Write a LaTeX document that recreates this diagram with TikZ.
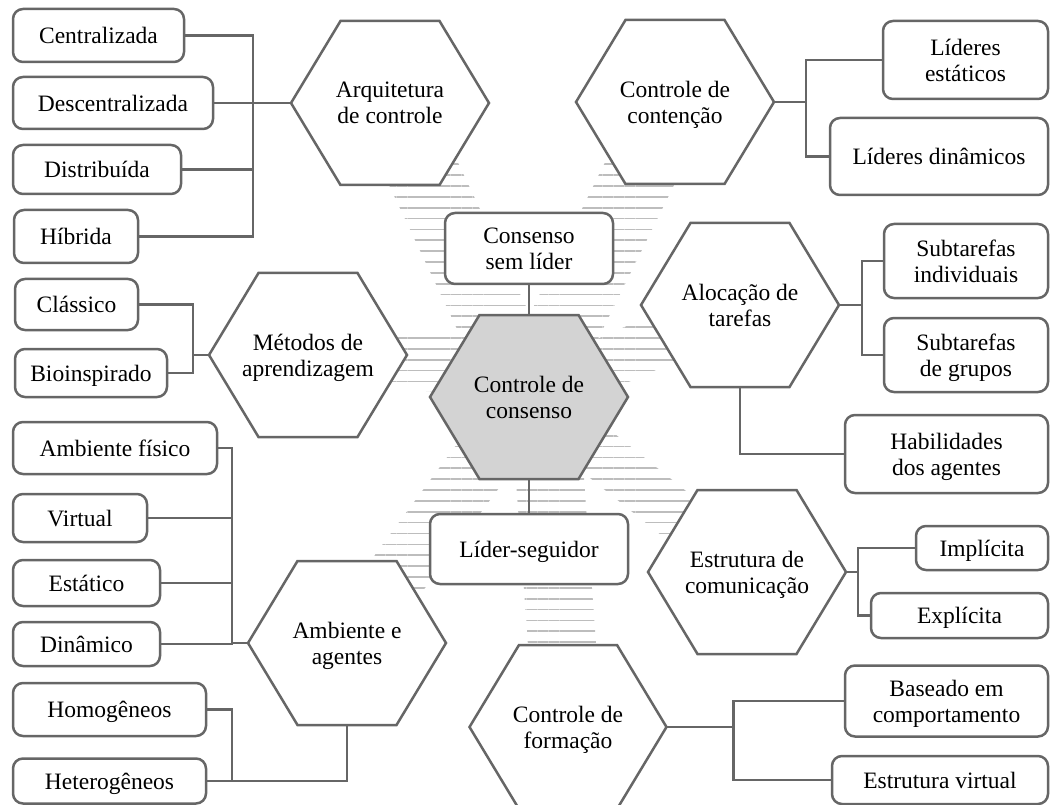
\documentclass[tikz,border=0pt]{standalone}
\usepackage{fontspec}
\setmainfont{Liberation Serif}
\usetikzlibrary{calc,patterns.meta}
\definecolor{linegray}{HTML}{666666}
\definecolor{hubfill}{HTML}{D3D3D3}
\definecolor{stripegray}{HTML}{BDBDBD}
\pgfdeclarelayer{bands}
\pgfdeclarelayer{hexes}
\pgfsetlayers{bands,hexes,main}

\begin{document}
\begin{tikzpicture}[x=1pt,y=-1pt,
  every node/.style={font=\fontsize{23.5}{26}\selectfont, align=center, inner sep=0pt, outer sep=0pt, text depth=0pt},
  hexa/.style={minimum width=198pt, minimum height=164pt},
  leaf/.style={draw=linegray, line width=2.5pt, rounded corners=10pt, fill=white},
  link/.style={draw=linegray, line width=2.5pt},
  hexline/.style={draw=linegray, line width=2.5pt, line join=miter}]
\useasboundingbox (0,0) rectangle (1050,805);

% hexagons
\node[hexa] (cc) at (529,397) {Controle de\\consenso};
\node[hexa] (arq) at (390,103) {Arquitetura\\de controle};
\node[hexa] (cont) at (675,102) {Controle de\\contenção};
\node[hexa] (met) at (308,355) {Métodos de\\aprendizagem};
\node[hexa] (aloc) at (740,305) {Alocação de\\tarefas};
\node[hexa] (amb) at (347,643) {Ambiente e\\agentes};
\node[hexa] (estr) at (747,572) {Estrutura de\\comunicação};
\node[hexa, minimum width=197pt] (form) at (568,727) {Controle de\\formação};

% boxes
\node[leaf, minimum width=171pt, minimum height=53pt] (cen) at (98.5,35.5) {Centralizada};
\node[leaf, minimum width=200pt, minimum height=52pt] (des) at (113,103) {Descentralizada};
\node[leaf, minimum width=168pt, minimum height=49pt] (dis) at (97,169.5) {Distribuída};
\node[leaf, minimum width=124pt, minimum height=53pt] (hib) at (76,236.5) {Híbrida};
\node[leaf, minimum width=123pt, minimum height=51pt] (cla) at (76.5,304.5) {Clássico};
\node[leaf, minimum width=152pt, minimum height=48pt] (bio) at (91,373) {Bioinspirado};
\node[leaf, minimum width=204pt, minimum height=52pt] (fis) at (115,448) {Ambiente físico};
\node[leaf, minimum width=134pt, minimum height=48pt] (vir) at (80,518) {Virtual};
\node[leaf, minimum width=147pt, minimum height=46pt] (est) at (86.5,583) {Estático};
\node[leaf, minimum width=147pt, minimum height=44pt] (din) at (86.5,644) {Dinâmico};
\node[leaf, minimum width=193pt, minimum height=53pt] (hom) at (109.5,709.5) {Homogêneos};
\node[leaf, minimum width=193pt, minimum height=45pt] (het) at (109.5,781) {Heterogêneos};
\node[leaf, minimum width=165pt, minimum height=78pt] (les) at (965.5,60) {Líderes\\estáticos};
\node[leaf, minimum width=218pt, minimum height=77pt] (ldi) at (939,156.5) {Líderes dinâmicos};
\node[leaf, minimum width=168pt, minimum height=71pt] (csl) at (529,248.5) {Consenso\\sem líder};
\node[leaf, minimum width=198pt, minimum height=70pt] (lsg) at (529,549) {Líder-seguidor};
\node[leaf, minimum width=164pt, minimum height=74pt] (sti) at (966,261) {Subtarefas\\individuais};
\node[leaf, minimum width=164pt, minimum height=74pt] (stg) at (966,355) {Subtarefas\\de grupos};
\node[leaf, minimum width=203pt, minimum height=78pt] (hab) at (946.5,454) {Habilidades\\dos agentes};
\node[leaf, minimum width=132pt, minimum height=44pt] (imp) at (982,548) {Implícita};
\node[leaf, minimum width=177pt, minimum height=45pt] (exp) at (959.5,615.5) {Explícita};
\node[leaf, minimum width=203pt, minimum height=71pt] (bas) at (946.5,701) {Baseado em\\comportamento};
\node[leaf, minimum width=216pt, minimum height=48pt] (ev) at (940,780) {Estrutura virtual};

% striped bands behind the hexagons
\coordinate (mettip) at ([yshift=29pt]cc.center);
\coordinate (formtip) at ([xshift=15pt]cc.center);
\begin{pgfonlayer}{bands}
\foreach \a/\b/\w in {cc/arq/36pt, cc/cont/36pt, mettip/met/29pt, cc/aloc/26pt, cc/amb/30pt, cc/estr/25pt, formtip/form/34pt}
  \fill[pattern={Lines[angle=0,distance=10.86pt,line width=1.7pt]}, pattern color=stripegray]
    ($(\a)!\w!90:(\b)$) -- ($(\b)!\w!-90:(\a)$) -- ($(\b)!\w!90:(\a)$) -- ($(\a)!\w!-90:(\b)$) -- cycle;
\end{pgfonlayer}

\begin{pgfonlayer}{hexes}
\foreach \h in {arq,cont,met,aloc,amb,estr,form}
  \filldraw[hexline, fill=white] (\h.west) -- ([xshift=49.5pt]\h.north west) -- ([xshift=-49.5pt]\h.north east)
    -- (\h.east) -- ([xshift=-49.5pt]\h.south east) -- ([xshift=49.5pt]\h.south west) -- cycle;
\filldraw[hexline, fill=hubfill] (cc.west) -- ([xshift=49.5pt]cc.north west) -- ([xshift=-49.5pt]cc.north east)
    -- (cc.east) -- ([xshift=-49.5pt]cc.south east) -- ([xshift=49.5pt]cc.south west) -- cycle;
\end{pgfonlayer}

% connectors
\draw[link] (csl.south) -- (cc.north);
\draw[link] (cc.south) -- (lsg.north);

\coordinate (arqbus) at ([xshift=-38pt]arq.west);
\draw[link] (arq.west) -- (arqbus);
\foreach \b in {cen,des,dis,hib} \draw[link] (\b.east) -| (arqbus);

\coordinate (metbus) at ([xshift=-16pt]met.west);
\draw[link] (met.west) -- (metbus);
\foreach \b in {cla,bio} \draw[link] (\b.east) -| (metbus);

\coordinate (ambbus) at ([xshift=-16pt]amb.west);
\draw[link] (amb.west) -- (ambbus);
\foreach \b in {fis,vir,est,din} \draw[link] (\b.east) -| (ambbus);
\coordinate (hombus) at ([xshift=26pt]het.east);
\draw[link] (amb.south) |- (het.east);
\draw[link] (hom.east) -| (hombus);

\coordinate (contbus) at ([xshift=32pt]cont.east);
\draw[link] (cont.east) -- (contbus);
\foreach \b in {les,ldi} \draw[link] (\b.west) -| (contbus);

\coordinate (alocbus) at ([xshift=23pt]aloc.east);
\draw[link] (aloc.east) -- (alocbus);
\foreach \b in {sti,stg} \draw[link] (\b.west) -| (alocbus);
\draw[link] (aloc.south) |- (hab.west);

\coordinate (estrbus) at ([xshift=12pt]estr.east);
\draw[link] (estr.east) -- (estrbus);
\foreach \b in {imp,exp} \draw[link] (\b.west) -| (estrbus);

\coordinate (formbus) at ([xshift=67pt]form.east);
\draw[link] (form.east) -- (formbus);
\foreach \b in {bas,ev} \draw[link] (\b.west) -| (formbus);
\end{tikzpicture}
\end{document}
